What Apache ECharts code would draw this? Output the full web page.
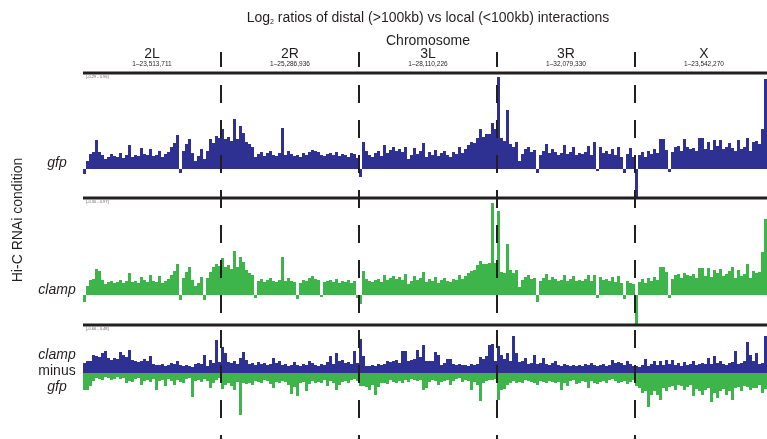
<!DOCTYPE html>
<html><head><meta charset="utf-8">
<script src="https://cdn.jsdelivr.net/npm/echarts@6/dist/echarts.min.js"></script>
<style>html,body{margin:0;padding:0;background:#fff}#c{width:767px;height:439px}</style>
</head><body><div id="c"></div>
<script>
// Chromosomes and their lengths (header labels)
const chromosomes = ['2L', '2R', '3L', '3R', 'X'];
const chromLengths = ['1\u201323,513,711', '1\u201325,286,936', '1\u201328,110,226', '1\u201332,079,330', '1\u201323,542,270'];
const binsPerChrom = 46;
// values in units of 0.01 log2(distal/local), bins ordered 2L,2R,3L,3R,X
const gfp = [
  -5,8,15,17,29,17,14,10,12,15,13,12,16,11,14,24,12,14,13,21,15,14,20,13,14,18,12,15,17,22,26,34,-4,18,25,30,16,8,13,20,10,18,30,26,33,31,
  40,30,32,28,50,30,43,36,27,25,22,12,15,17,13,16,18,14,13,16,41,14,18,15,13,14,12,16,14,17,19,18,17,14,13,15,16,14,17,13,15,14,12,16,15,11,
  -8,27,18,14,12,16,18,13,24,16,19,22,18,20,17,22,10,14,21,15,18,26,12,17,14,19,13,16,18,14,12,17,15,22,16,20,24,27,26,31,40,32,35,35,46,40,
  92,31,28,59,25,22,27,8,15,20,22,17,19,-4,14,18,25,16,20,17,14,16,24,15,17,22,14,16,15,17,23,14,27,-2,22,16,18,15,20,14,22,12,-4,15,21,12,
  -29,14,17,12,18,15,20,16,30,30,19,-3,17,22,23,18,30,22,20,21,18,31,31,20,27,19,29,23,29,20,22,26,21,18,29,20,22,31,18,27,28,25,40,90,39,30
];
const clamp = [
  -7,9,15,16,26,24,15,11,13,14,12,13,15,12,14,22,13,14,12,18,15,13,20,14,13,19,12,14,16,20,24,31,-5,17,23,28,15,9,12,18,-5,17,23,28,31,29,
  37,28,30,26,44,28,38,33,25,22,20,-3,14,16,13,15,17,14,13,15,38,14,17,14,13,-4,12,15,14,17,19,16,15,-2,13,14,15,13,16,12,14,13,15,12,14,-3,
  -9,24,16,14,13,15,16,13,20,15,17,19,16,18,15,21,11,14,19,15,17,23,13,16,14,18,12,15,17,14,13,16,15,20,16,19,22,24,25,30,34,31,31,32,92,32,
  84,23,22,51,25,22,25,8,15,18,20,16,17,-7,14,17,21,15,18,16,14,15,20,14,16,19,14,15,14,16,20,14,20,-3,18,15,16,14,18,13,19,12,-4,14,12,11,
  -29,13,16,12,17,14,18,15,28,28,23,-3,16,20,21,17,22,20,19,21,17,27,27,19,27,18,25,22,26,19,21,24,28,17,25,19,21,31,17,24,22,23,43,76,35,30
];
// clamp minus gfp: positive part (blue) and negative part (green)
const diffUp = [
  10,12,12,18,17,16,20,22,15,13,15,14,21,18,16,23,13,12,11,12,14,12,17,9,8,8,9,7,8,10,9,12,8,7,8,7,6,9,10,9,18,7,13,10,33,11,
  26,20,11,10,12,9,15,21,13,9,10,8,11,9,10,8,9,15,10,12,8,9,7,8,11,8,7,9,8,12,10,8,7,9,8,11,17,9,20,12,13,10,11,9,22,10,
  34,17,7,7,8,7,9,8,9,12,11,12,13,10,22,22,12,13,14,23,16,28,12,12,12,21,18,8,10,14,14,9,8,9,8,8,7,9,8,9,16,14,17,28,29,12,
  27,18,14,20,12,37,20,11,12,15,9,10,18,9,10,15,9,8,10,12,8,7,9,8,7,8,7,8,7,9,8,10,8,7,8,9,7,8,13,10,11,10,8,12,9,7,
  7,6,8,14,7,9,12,8,12,8,13,9,13,8,10,7,11,8,9,12,8,9,10,9,15,9,17,10,12,9,8,10,11,22,9,10,12,31,18,12,20,9,10,37,8,8
];
const diffDown = [
  -17,-17,-13,-8,-5,-6,-7,-4,-5,-7,-6,-4,-6,-5,-10,-8,-9,-6,-5,-12,-8,-7,-9,-6,-17,-8,-7,-13,-6,-8,-12,-7,-9,-10,-6,-5,-24,-8,-7,-9,-6,-8,-15,-10,-7,-5,
  -16,-12,-10,-13,-17,-9,-42,-10,-11,-10,-12,-8,-9,-10,-7,-8,-11,-15,-9,-10,-8,-9,-12,-21,-14,-23,-10,-9,-18,-11,-8,-10,-9,-10,-7,-13,-8,-10,-17,-12,-9,-8,-10,-7,-6,-8,
  -13,-13,-14,-17,-12,-22,-14,-10,-10,-11,-7,-9,-10,-8,-10,-7,-9,-6,-7,-8,-7,-17,-15,-9,-7,-8,-12,-9,-8,-7,-12,-8,-6,-5,-9,-7,-8,-17,-9,-12,-28,-10,-8,-7,-7,-6,
  -27,-17,-16,-12,-10,-8,-10,-9,-10,-7,-8,-9,-10,-12,-8,-9,-10,-8,-9,-10,-9,-17,-10,-13,-8,-7,-11,-10,-8,-9,-15,-8,-10,-11,-9,-8,-10,-7,-6,-8,-10,-9,-8,-11,-9,-7,
  -13,-15,-20,-18,-34,-22,-18,-22,-27,-15,-18,-14,-13,-17,-12,-13,-17,-14,-12,-23,-16,-18,-22,-17,-15,-29,-20,-25,-18,-16,-22,-18,-27,-15,-14,-18,-13,-14,-17,-15,-15,-12,-20,-16,-10,-9
];
const panelRanges = ['[-0.29 - 0.96]', '[-0.30 - 0.97]', '[-0.66 - 0.48]'];
const conditionLabels = ['gfp', 'clamp'];

const BLUE = '#2e3192', GREEN = '#3db54a', INK = '#231f20';
const FONT = "'Liberation Sans', Arial, sans-serif";
const categories = [];
chromosomes.forEach(c => { for (let b = 0; b < binsPerChrom; b++) categories.push(c + ':' + (b + 1)); });

const grids = [
  {left: 83, top: 73, width: 690, height: 125, outerBoundsMode: 'none', containLabel: false},
  {left: 83, top: 198, width: 690, height: 127, outerBoundsMode: 'none', containLabel: false},
  {left: 83, top: 325, width: 690, height: 114, outerBoundsMode: 'none', containLabel: false}
];
const chart = echarts.init(document.getElementById('c'), null, {renderer: 'canvas'});
const barBase = {type: 'bar', barCategoryGap: '0%', barGap: '-100%', silent: true, animation: false};
chart.setOption({
  animation: false,
  grid: grids,
  xAxis: grids.map((g, i) => ({type: 'category', gridIndex: i, data: categories, show: false})),
  yAxis: [
    {type: 'value', gridIndex: 0, min: -29, max: 96, show: false},
    {type: 'value', gridIndex: 1, min: -30, max: 97, show: false},
    {type: 'value', gridIndex: 2, min: -66, max: 48, show: false}
  ],
  series: [
    Object.assign({}, barBase, {name: 'gfp', xAxisIndex: 0, yAxisIndex: 0, data: gfp, itemStyle: {color: BLUE}}),
    Object.assign({}, barBase, {name: 'clamp', xAxisIndex: 1, yAxisIndex: 1, data: clamp, itemStyle: {color: GREEN}}),
    Object.assign({}, barBase, {name: 'up', xAxisIndex: 2, yAxisIndex: 2, data: diffUp, itemStyle: {color: BLUE}}),
    Object.assign({}, barBase, {name: 'down', xAxisIndex: 2, yAxisIndex: 2, data: diffDown, itemStyle: {color: GREEN}})
  ]
});

function px(i) { return chart.convertToPixel({xAxisIndex: 0}, i); }
const els = [];
function text(t, x, y, size, opt) {
  els.push({type: 'text', z: 100, x: x, y: y, style: Object.assign({
    text: t, fill: INK, fontSize: size, fontFamily: FONT,
    align: 'center', verticalAlign: 'middle'
  }, opt || {})});
}
const step = px(1) - px(0);
const plotLeft = px(0) - step / 2;
const plotRight = px(categories.length - 1) + step / 2;
const centerX = (plotLeft + plotRight) / 2;

// title
els.push({type: 'text', z: 100, x: centerX, y: 18, style: {
  text: 'Log{s|2} ratios of distal (>100kb) vs local (<100kb) interactions',
  fill: INK, fontSize: 14, fontFamily: FONT, align: 'center', verticalAlign: 'middle',
  rich: {s: {fontSize: 7, fontFamily: FONT, fill: INK, padding: [9, 0, 0, 0]}}
}});
text('Chromosome', centerX, 41, 14);
chromosomes.forEach((c, k) => {
  const cx = (px(k * binsPerChrom + binsPerChrom / 2 - 1) + px(k * binsPerChrom + binsPerChrom / 2)) / 2;
  text(c, cx, 54.5, 14);
  text(chromLengths[k], cx, 64, 6.5);
});
// boundaries
for (let k = 1; k < chromosomes.length; k++) {
  const bx = Math.round((px(k * binsPerChrom - 1) + px(k * binsPerChrom)) / 2);
  els.push({type: 'line', z: 100, shape: {x1: bx, y1: 52, x2: bx, y2: 67}, style: {stroke: INK, lineWidth: 2}});
  els.push({type: 'line', z: 100, shape: {x1: bx, y1: 85, x2: bx, y2: 439}, style: {stroke: INK, lineWidth: 2, lineDash: [18, 17]}});
}
// panel separators and range labels
grids.forEach((g, i) => {
  els.push({type: 'line', z: 101, shape: {x1: plotLeft, y1: g.top, x2: 767, y2: g.top}, style: {stroke: INK, lineWidth: 3}});
  text(panelRanges[i], plotLeft + 3, g.top + 4, 4, {align: 'left', fill: '#666'});
});
// axis label and condition labels
els.push({type: 'text', z: 100, x: 18, y: 220, rotation: Math.PI / 2, style: {
  text: 'Hi-C RNAi condition', fill: INK, fontSize: 14, fontFamily: FONT, align: 'center', verticalAlign: 'middle'}});
const ital = {fontStyle: 'italic'};
text(conditionLabels[0], 57, 163, 14, ital);
text(conditionLabels[1], 57, 290, 14, ital);
text(conditionLabels[1], 57, 355, 14, ital);
text('minus', 57, 371, 14);
text(conditionLabels[0], 57, 387, 14, ital);

chart.setOption({graphic: {elements: els}});
</script></body></html>
